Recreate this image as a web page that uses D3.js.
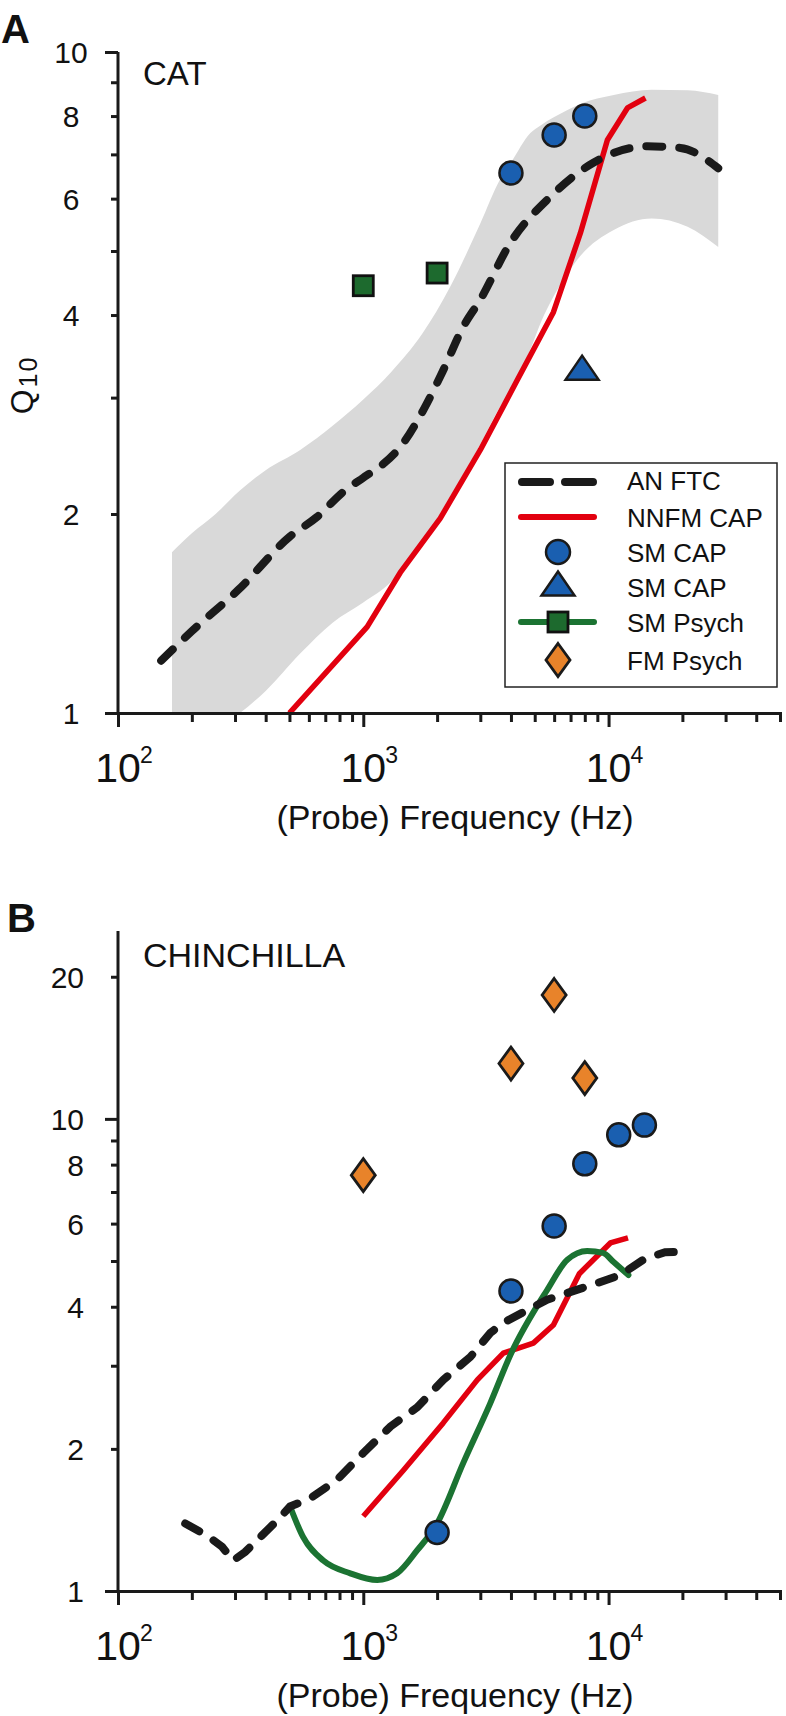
<!DOCTYPE html>
<html><head><meta charset="utf-8">
<script src="https://cdn.jsdelivr.net/npm/d3@7"></script>
<style>
body{margin:0;background:#fff}
svg{display:block}
text{font-family:"Liberation Sans",Arial,Helvetica,sans-serif;fill:#111}
</style>
</head><body>
<svg id="chart" width="786" height="1716"></svg>
<script>
// ---------- DATA ----------
// Panel A (cat)
const catFtcFreq = [150, 200, 309, 503, 648, 828, 1000, 1205, 1455, 1755, 2118, 2556, 3000, 3975, 5790, 8670, 14390, 19630, 28000];
const catFtcQ    = [1.20, 1.33, 1.535, 1.85, 1.98, 2.16, 2.27, 2.38, 2.56, 2.87, 3.30, 3.84, 4.22, 5.14, 6.04, 6.8, 7.2, 7.16, 6.67];
const catBandFreq  = [166, 200, 250, 314, 400, 553, 750, 1000, 1300, 1750, 2250, 3000, 3600, 4000, 4800, 5300, 6800, 7700, 10500, 15000, 21000, 28000];
const catBandUpper = [1.75, 1.87, 2.0, 2.17, 2.33, 2.50, 2.72, 2.98, 3.28, 3.76, 4.40, 5.5, 6.4, 6.8, 7.54, 7.75, 8.17, 8.35, 8.61, 8.77, 8.75, 8.61];
const catBandLower = [0.85, 0.9, 0.95, 1.0, 1.08, 1.23, 1.37, 1.47, 1.58, 1.82, 2.12, 2.55, 2.9, 3.08, 3.55, 3.9, 4.62, 4.92, 5.38, 5.6, 5.44, 5.07];
const catNnfmFreq = [500, 1037, 1414, 2059, 3000, 4245, 5960, 7674, 9890, 11940, 14140];
const catNnfmQ    = [1.0, 1.35, 1.63, 1.97, 2.5, 3.19, 4.04, 5.32, 7.36, 8.23, 8.52];
const catSmCapFreq = [4000, 6000, 8000];
const catSmCapQ    = [6.56, 7.49, 8.0];
const catSmCapTriFreq = [7800];
const catSmCapTriQ    = [3.29];
const catSmPsychFreq = [1000, 2000];
const catSmPsychQ    = [4.43, 4.63];

// Panel B (chinchilla)
const chinFtcFreq = [188, 231, 266, 295, 330, 380, 445, 503, 607, 781, 1000, 1290, 1660, 2118, 2730, 3296, 3723, 5620, 8995, 11170, 14000, 17000, 20000];
const chinFtcQ    = [1.39, 1.31, 1.24, 1.16, 1.21, 1.30, 1.41, 1.51, 1.57, 1.72, 1.96, 2.23, 2.45, 2.80, 3.13, 3.52, 3.70, 4.14, 4.49, 4.67, 5.05, 5.22, 5.23];
const chinNnfmFreq = [1000, 1455, 2118, 2917, 3723, 4935, 5960, 7600, 10170, 12000];
const chinNnfmQ    = [1.44, 1.80, 2.27, 2.80, 3.19, 3.35, 3.66, 4.7, 5.46, 5.6];
const chinSmPsychFreq = [503, 569, 687, 885, 1140, 1374, 1660, 2000, 2560, 3296, 4000, 5620, 6790, 8180, 9500, 10460, 12050];
const chinSmPsychQ    = [1.51, 1.30, 1.16, 1.09, 1.055, 1.09, 1.22, 1.39, 1.87, 2.50, 3.18, 4.34, 5.03, 5.25, 5.2, 4.98, 4.67];
const chinSmCapFreq = [2000, 4000, 6000, 8000, 11000, 14000];
const chinSmCapQ    = [1.33, 4.32, 5.93, 8.03, 9.25, 9.7];
const chinFmPsychFreq = [1000, 4000, 6000, 8000];
const chinFmPsychQ    = [7.6, 13.1, 18.3, 12.2];

// Ticks
const xMajorTicks = [100, 1000, 10000];
const xExponents = ["2", "3", "4"];
const xMinorTicks = [200,300,400,500,600,700,800,900,2000,3000,4000,5000,6000,7000,8000,9000,20000,30000,40000,50000];
const yTicksA = [1,2,3,4,5,6,7,8,9,10];
const yLabelsA = [1,2,4,6,8,10];
const yTicksB = [1,2,3,4,5,6,7,8,9,10,20];
const yLabelsB = [1,2,4,6,8,10,20];

const legendLabels = ["AN FTC", "NNFM CAP", "SM CAP", "SM CAP", "SM Psych", "FM Psych"];

// ---------- STYLE ----------
const C = {
  ink: "#1a1a1a", red: "#e2000f", green: "#1b7332", blue: "#1a5fb0",
  sqGreen: "#1d6a2e", orange: "#e8832a", band: "#d9d9d9"
};

const svg = d3.select("#chart");
const zip = (a, b) => a.map((v, i) => [v, b[i]]);

const x = d3.scaleLog().domain([100, 50000]).range([118, 780]);

function drawPanel(cfg) {
  const y = d3.scaleLog().domain(cfg.yDomain).range(cfg.yRange);
  const g = svg.append("g");
  const clipId = "clip" + cfg.id;
  svg.append("clipPath").attr("id", clipId).append("rect")
    .attr("x", 118).attr("y", cfg.yRange[1]).attr("width", 662).attr("height", cfg.yRange[0] - cfg.yRange[1]);
  const plot = g.append("g").attr("clip-path", `url(#${clipId})`);

  // x axis
  const allX = xMajorTicks.concat(xMinorTicks);
  const xa = g.append("g").attr("transform", `translate(0,${cfg.yRange[0]})`)
    .call(d3.axisBottom(x).tickValues(allX).tickSizeOuter(0).tickSize(9).tickFormat(""));
  xa.select(".domain").attr("stroke", C.ink).attr("stroke-width", 3);
  xa.selectAll(".tick line").attr("stroke", C.ink).attr("stroke-width", 3)
    .attr("y2", d => xMajorTicks.includes(d) ? 14 : 9);
  xMajorTicks.forEach((v, i) => {
    g.append("text").attr("x", x(v)).attr("y", cfg.yRange[0] + 69)
      .attr("text-anchor", "middle").attr("font-size", 41).text("10");
    g.append("text").attr("x", x(v) + 22).attr("y", cfg.yRange[0] + 50)
      .attr("font-size", 23).text(xExponents[i]);
  });
  g.append("text").attr("x", 455).attr("y", cfg.yRange[0] + 116)
    .attr("text-anchor", "middle").attr("font-size", 34).text("(Probe) Frequency (Hz)");

  // y axis
  const ya = g.append("g").attr("transform", `translate(118,0)`)
    .call(d3.axisLeft(y).tickValues(cfg.yTicks).tickSizeOuter(0).tickSize(7)
      .tickFormat(d => cfg.yLabels.includes(d) ? String(d) : ""));
  ya.select(".domain").attr("stroke", C.ink).attr("stroke-width", 3)
    .attr("d", `M0,${cfg.yRange[0]}V${cfg.yRange[1]}`);
  ya.selectAll(".tick line").attr("stroke", C.ink).attr("stroke-width", 3)
    .attr("x2", d => (d === 1 || d === 10) ? -13 : -7);
  ya.selectAll(".tick text").attr("font-size", 30).attr("fill", "#111")
    .attr("font-family", '"Liberation Sans",Arial,sans-serif')
    .attr("x", cfg.labelX).attr("text-anchor", cfg.labelAnchor).attr("dy", "0.36em");

  // panel letter + title
  g.append("text").attr("x", cfg.letterX).attr("y", cfg.letterY).attr("font-size", 40)
    .attr("font-weight", "bold").text(cfg.letter);
  g.append("text").attr("x", 143).attr("y", cfg.titleY).attr("font-size", cfg.titleSize).text(cfg.title);

  return {g, plot, y};
}

function lineGen(y, curve) {
  return d3.line().x(d => x(d[0])).y(d => y(d[1])).curve(curve || d3.curveLinear);
}
function dashed(sel) {
  return sel.attr("fill", "none").attr("stroke", C.ink).attr("stroke-width", 8)
    .attr("stroke-dasharray", "16,17").attr("stroke-linecap", "round");
}
const circleSym = (sel, r) => sel.append("circle").attr("r", r || 11.5)
  .attr("fill", C.blue).attr("stroke", C.ink).attr("stroke-width", 2.5);
const squareSym = sel => sel.append("rect").attr("x", -10).attr("y", -10).attr("width", 20).attr("height", 20)
  .attr("fill", C.sqGreen).attr("stroke", "#111").attr("stroke-width", 2.8);
const triSym = sel => sel.append("path").attr("d", "M-16.5,8.5L16.5,8.5L0,-15.5Z")
  .attr("fill", C.blue).attr("stroke", C.ink).attr("stroke-width", 2.5).attr("stroke-linejoin", "miter");
const diaSym = sel => sel.append("path").attr("d", "M0,-16.5L12,0L0,16.5L-12,0Z")
  .attr("fill", C.orange).attr("stroke", C.ink).attr("stroke-width", 2.8);

function points(layer, y, fx, fy, sym) {
  layer.selectAll(null).data(zip(fx, fy)).enter().append("g")
    .attr("transform", d => `translate(${x(d[0])},${y(d[1])})`)
    .each(function() { sym(d3.select(this)); });
}

// ---------- PANEL A ----------
const A = drawPanel({id: "A", yDomain: [1, 10], yRange: [713, 52], yTicks: yTicksA, yLabels: yLabelsA,
  labelX: -47, labelAnchor: "middle", letter: "A", letterX: 1, letterY: 43, title: "CAT", titleY: 85, titleSize: 33});

A.plot.append("path")
  .datum(catBandFreq.map((f, i) => [f, catBandLower[i], catBandUpper[i]]))
  .attr("fill", C.band)
  .attr("d", d3.area().x(d => x(d[0])).y0(d => A.y(d[1])).y1(d => A.y(d[2])).curve(d3.curveMonotoneX));

A.plot.append("path").datum(zip(catNnfmFreq, catNnfmQ))
  .attr("fill", "none").attr("stroke", C.red).attr("stroke-width", 5.5).attr("stroke-linejoin", "round")
  .attr("d", lineGen(A.y));
dashed(A.g.append("path").datum(zip(catFtcFreq, catFtcQ)))
  .attr("d", lineGen(A.y, d3.curveMonotoneX));

points(A.g, A.y, catSmPsychFreq, catSmPsychQ, squareSym);
points(A.g, A.y, catSmCapFreq, catSmCapQ, s => circleSym(s));
points(A.g, A.y, catSmCapTriFreq, catSmCapTriQ, triSym);

// legend
const lg = A.g.append("g");
lg.append("rect").attr("x", 505).attr("y", 463).attr("width", 272).attr("height", 224)
  .attr("fill", "#fff").attr("stroke", "#222").attr("stroke-width", 1.5);
const legY = [482, 517, 552, 587, 622, 660];
const legBase = [490, 527, 562, 597, 632, 670];
lg.append("line").attr("x1", 522).attr("x2", 593).attr("y1", legY[0]).attr("y2", legY[0])
  .attr("stroke", C.ink).attr("stroke-width", 8).attr("stroke-linecap", "round").attr("stroke-dasharray", "28,15");
lg.append("line").attr("x1", 521).attr("x2", 594).attr("y1", legY[1]).attr("y2", legY[1])
  .attr("stroke", C.red).attr("stroke-width", 6).attr("stroke-linecap", "round");
circleSym(lg.append("g").attr("transform", `translate(558,${legY[2]})`), 12);
triSym(lg.append("g").attr("transform", `translate(558,${legY[3]})`));
lg.append("line").attr("x1", 521).attr("x2", 594).attr("y1", legY[4]).attr("y2", legY[4])
  .attr("stroke", C.green).attr("stroke-width", 6).attr("stroke-linecap", "round");
squareSym(lg.append("g").attr("transform", `translate(558,${legY[4]})`));
diaSym(lg.append("g").attr("transform", `translate(558,${legY[5]})`));
legendLabels.forEach((t, i) => {
  lg.append("text").attr("x", 627).attr("y", legBase[i]).attr("font-size", 26).text(t);
});

// Q10 label
const ql = svg.append("text").attr("transform", "translate(33,385) rotate(-90)")
  .attr("text-anchor", "middle").attr("font-size", 32);
ql.append("tspan").text("Q");
ql.append("tspan").attr("font-size", 25).attr("dy", 4).attr("dx", 2).attr("letter-spacing", 2).text("10");

// ---------- PANEL B ----------
const B = drawPanel({id: "B", yDomain: [1, 25], yRange: [1591, 931], yTicks: yTicksB, yLabels: yLabelsB,
  labelX: -34, labelAnchor: "end", letter: "B", letterX: 7, letterY: 932, title: "CHINCHILLA", titleY: 967, titleSize: 34});
B.g.selectAll(".tick line").filter(d => d === 20).attr("x2", -7);

dashed(B.g.append("path").datum(zip(chinFtcFreq, chinFtcQ)))
  .attr("d", lineGen(B.y));
B.plot.append("path").datum(zip(chinNnfmFreq, chinNnfmQ))
  .attr("fill", "none").attr("stroke", C.red).attr("stroke-width", 5.5).attr("stroke-linejoin", "round")
  .attr("d", lineGen(B.y));
B.plot.append("path").datum(zip(chinSmPsychFreq, chinSmPsychQ))
  .attr("fill", "none").attr("stroke", C.green).attr("stroke-width", 6).attr("stroke-linecap", "round")
  .attr("d", lineGen(B.y, d3.curveMonotoneX));

points(B.g, B.y, chinSmCapFreq, chinSmCapQ, s => circleSym(s));
points(B.g, B.y, chinFmPsychFreq, chinFmPsychQ, diaSym);
</script>
</body></html>
